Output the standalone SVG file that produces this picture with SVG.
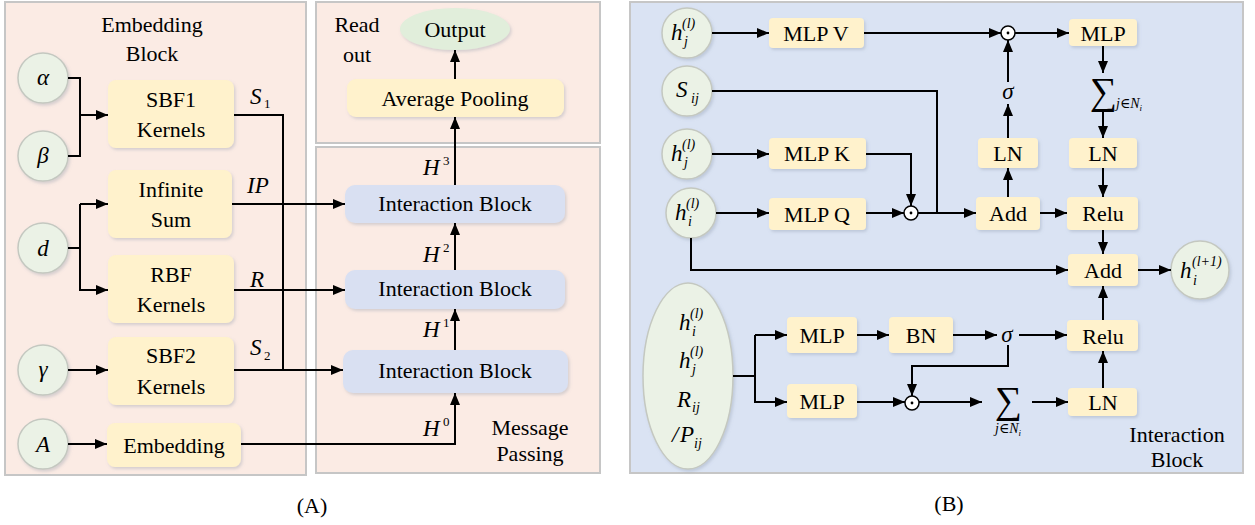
<svg xmlns="http://www.w3.org/2000/svg" width="1255" height="525" viewBox="0 0 1255 525">
<defs>
<filter id="sh" x="-20%" y="-20%" width="140%" height="140%"><feDropShadow dx="1.5" dy="2" stdDeviation="1.5" flood-color="#7f8aa0" flood-opacity="0.3"/></filter>
<marker id="ar" viewBox="0 0 12 10" refX="12" refY="5" markerWidth="12" markerHeight="10" markerUnits="userSpaceOnUse" orient="auto"><path d="M0,0 L12,5 L0,10 Z" fill="#000"/></marker>
</defs>
<style>
.pa{fill:#fbebe4;stroke:#c6c6c6;stroke-width:2}
.pb{fill:#dae3f3;stroke:#c6c6c6;stroke-width:2}
.y{fill:#fff2cc;filter:url(#sh)}
.ib{fill:#d9e0f2;filter:url(#sh)}
.c{fill:#ebf2e6;stroke:#c4c8c0;stroke-width:1.5;filter:url(#sh)}
text{font-family:"Liberation Serif","Tinos","DejaVu Serif","Noto Serif","Times New Roman",serif;fill:#000}
.t{font-size:22px;text-anchor:middle}
.m{font-style:italic;font-size:23px}
.sup{font-style:italic;font-size:14px}
.sb{font-size:13px}
.w{fill:none;stroke:#000;stroke-width:2}
.a{fill:none;stroke:#000;stroke-width:2;marker-end:url(#ar)}
.od{fill:#fff;stroke:#000;stroke-width:1.5}
</style>
<!-- panels -->
<rect class="pa" x="5" y="2" width="301" height="473"/>
<rect class="pa" x="316" y="2" width="284" height="141"/>
<rect class="pa" x="316" y="147" width="284" height="326"/>
<rect class="pb" x="630" y="2" width="613" height="471"/>
<text class="t" x="152" y="32">Embedding</text>
<text class="t" x="152" y="61">Block</text>
<text class="t" x="357" y="32">Read</text>
<text class="t" x="357" y="62">out</text>
<text class="t" x="530" y="435">Message</text>
<text class="t" x="530" y="461">Passing</text>
<text class="t" x="1177" y="442">Interaction</text>
<text class="t" x="1177" y="467">Block</text>
<text class="t" x="312" y="513">(A)</text>
<text class="t" x="949" y="511">(B)</text>

<!-- Panel A nodes -->
<g id="alpha"><circle class="c" cx="43" cy="78" r="25"/><text class="m" x="43" y="85" text-anchor="middle">α</text></g>
<g id="beta"><circle class="c" cx="43" cy="156" r="25"/><text class="m" x="43" y="163" text-anchor="middle">β</text></g>
<g id="d"><circle class="c" cx="43" cy="248" r="25"/><text class="m" x="43" y="256" text-anchor="middle">d</text></g>
<g id="gamma"><circle class="c" cx="43" cy="370" r="25"/><text class="m" x="43" y="377" text-anchor="middle">γ</text></g>
<g id="A"><circle class="c" cx="43" cy="444" r="25"/><text class="m" x="43" y="452" text-anchor="middle">A</text></g>
<g id="sbf1"><rect class="y" x="108" y="80" width="126" height="68" rx="8"/><text class="t" x="171" y="107">SBF1</text><text class="t" x="171" y="137">Kernels</text></g>
<g id="infsum"><rect class="y" x="108" y="170" width="124" height="68" rx="8"/><text class="t" x="171" y="197">Infinite</text><text class="t" x="171" y="227">Sum</text></g>
<g id="rbf"><rect class="y" x="108" y="255" width="126" height="68" rx="8"/><text class="t" x="171" y="282">RBF</text><text class="t" x="171" y="312">Kernels</text></g>
<g id="sbf2"><rect class="y" x="108" y="337" width="126" height="68" rx="8"/><text class="t" x="171" y="363">SBF2</text><text class="t" x="171" y="394">Kernels</text></g>
<g id="emb"><rect class="y" x="107" y="423" width="134" height="44" rx="8"/><text class="t" x="174" y="453">Embedding</text></g>
<g id="ib3"><rect class="ib" x="345" y="185" width="220" height="38" rx="10"/><text class="t" x="455" y="211">Interaction Block</text></g>
<g id="ib2"><rect class="ib" x="345" y="270" width="220" height="39" rx="10"/><text class="t" x="455" y="296">Interaction Block</text></g>
<g id="ib1"><rect class="ib" x="343" y="350" width="225" height="43" rx="10"/><text class="t" x="455" y="378">Interaction Block</text></g>
<g id="avgpool"><rect class="y" x="347" y="79" width="217" height="38" rx="9"/><text class="t" x="455" y="106">Average Pooling</text></g>
<g id="output"><ellipse cx="455" cy="29" rx="55" ry="21" fill="#e1eedb" filter="url(#sh)"/><text class="t" x="455" y="37">Output</text></g>

<!-- Panel B nodes -->
<g id="hj1"><circle class="c" cx="687" cy="33" r="25"/><text class="m" x="671" y="40" font-size="25">h</text><text class="sup" x="682" y="28">(l)</text><text class="sup" x="684" y="46">j</text></g>
<g id="sij"><circle class="c" cx="687" cy="91" r="25"/><text class="m" x="676" y="97">S</text><text class="sup" x="691" y="103">ij</text></g>
<g id="hj2"><circle class="c" cx="687" cy="154" r="25"/><text class="m" x="671" y="161" font-size="25">h</text><text class="sup" x="682" y="149">(l)</text><text class="sup" x="684" y="167">j</text></g>
<g id="hi"><circle class="c" cx="691" cy="213" r="25"/><text class="m" x="675" y="220" font-size="25">h</text><text class="sup" x="686" y="208">(l)</text><text class="sup" x="688" y="226">i</text></g>
<g id="hout"><circle class="c" cx="1200" cy="270" r="29"/><text class="m" x="1180" y="278" font-size="25">h</text><text class="sup" x="1192" y="266">(l+1)</text><text class="sup" x="1193" y="285">i</text></g>
<g id="inputs"><ellipse class="c" cx="688" cy="376" rx="45" ry="93"/>
<text class="m" x="679" y="330" font-size="25">h</text><text class="sup" x="690" y="318">(l)</text><text class="sup" x="692" y="336">i</text>
<text class="m" x="679" y="368" font-size="25">h</text><text class="sup" x="690" y="356">(l)</text><text class="sup" x="692" y="374">j</text>
<text class="m" x="677" y="407">R</text><text class="sup" x="692" y="412">ij</text>
<text class="m" x="672" y="442">/</text><text class="m" x="680" y="442">P</text><text class="sup" x="694" y="448">ij</text></g>
<g id="mlpv"><rect class="y" x="769" y="18" width="95" height="30" rx="4"/><text class="t" x="816" y="41">MLP V</text></g>
<g id="mlpk"><rect class="y" x="769" y="138" width="97" height="31" rx="4"/><text class="t" x="817" y="161">MLP K</text></g>
<g id="mlpq"><rect class="y" x="769" y="198" width="97" height="32" rx="4"/><text class="t" x="817" y="222">MLP Q</text></g>
<g id="odot1"><circle class="od" cx="911" cy="213" r="7"/><circle cx="911" cy="213" r="1.4"/></g>
<g id="add1"><rect class="y" x="976" y="197" width="64" height="33" rx="4"/><text class="t" x="1008" y="221">Add</text></g>
<g id="ln1"><rect class="y" x="978" y="138" width="60" height="30" rx="4"/><text class="t" x="1008" y="161">LN</text></g>
<g id="sigma1"><text class="m" x="1008" y="99" text-anchor="middle" font-size="24">σ</text></g>
<g id="odot2"><circle class="od" cx="1008" cy="33" r="7"/><circle cx="1008" cy="33" r="1.4"/></g>
<g id="mlp1"><rect class="y" x="1069" y="19" width="68" height="27" rx="4"/><text class="t" x="1103" y="41">MLP</text></g>
<g id="sum1"><text x="1090" y="104" font-size="38">∑</text><text class="sup" x="1116" y="108" font-size="12">j∈N<tspan font-size="9" dy="3">i</tspan></text></g>
<g id="ln2"><rect class="y" x="1069" y="138" width="68" height="30" rx="4"/><text class="t" x="1103" y="161">LN</text></g>
<g id="relu1"><rect class="y" x="1067" y="197" width="71" height="33" rx="4"/><text class="t" x="1103" y="221">Relu</text></g>
<g id="add2"><rect class="y" x="1068" y="254" width="70" height="32" rx="4"/><text class="t" x="1103" y="278">Add</text></g>
<g id="relu2"><rect class="y" x="1067" y="320" width="71" height="31" rx="4"/><text class="t" x="1103" y="344">Relu</text></g>
<g id="ln3"><rect class="y" x="1068" y="388" width="69" height="28" rx="4"/><text class="t" x="1103" y="410">LN</text></g>
<g id="mlp2"><rect class="y" x="787" y="317" width="70" height="36" rx="4"/><text class="t" x="822" y="343">MLP</text></g>
<g id="bn"><rect class="y" x="889" y="317" width="64" height="36" rx="4"/><text class="t" x="921" y="343">BN</text></g>
<g id="mlp3"><rect class="y" x="787" y="384" width="70" height="34" rx="4"/><text class="t" x="822" y="409">MLP</text></g>
<g id="sigma2"><text class="m" x="1007" y="342" text-anchor="middle" font-size="24">σ</text></g>
<g id="odot3"><circle class="od" cx="912" cy="403" r="7"/><circle cx="912" cy="403" r="1.4"/></g>
<g id="sum2"><text x="995" y="413" font-size="38">∑</text><text class="sup" x="995" y="433" font-size="12">j∈N<tspan font-size="9" dy="3">i</tspan></text></g>

<!-- connectors -->
<g id="connectors">
<path class="w" d="M68,78 H80 V156 H68"/>
<path class="a" d="M80,115 H108"/>
<path class="w" d="M68,248 H80"/>
<path class="a" d="M80,204 V290 H108"/>
<path class="a" d="M80,204 H108"/>
<path class="a" d="M68,370 H108"/>
<path class="a" d="M68,444 H107"/>
<path class="w" d="M234,115 H283 V370"/>
<path class="a" d="M232,204 H345"/>
<path class="a" d="M234,290 H345"/>
<path class="a" d="M234,370 H343"/>
<path class="a" d="M241,444 H455 V393"/>
<path class="a" d="M455,350 V309"/>
<path class="a" d="M455,270 V223"/>
<path class="a" d="M455,185 V117"/>
<path class="a" d="M455,79 V50"/>
<text class="m" x="250" y="104">S</text><text class="sb" x="264" y="108">1</text>
<text class="m" x="247" y="193">IP</text>
<text class="m" x="250" y="287">R</text>
<text class="m" x="250" y="355">S</text><text class="sb" x="264" y="360">2</text>
<text class="m" x="423" y="175">H</text><text class="sb" x="443" y="165">3</text>
<text class="m" x="423" y="262">H</text><text class="sb" x="443" y="252">2</text>
<text class="m" x="423" y="337">H</text><text class="sb" x="443" y="327">1</text>
<text class="m" x="423" y="436">H</text><text class="sb" x="443" y="426">0</text>

<path class="a" d="M712,33 H769"/>
<path class="a" d="M712,154 H769"/>
<path class="a" d="M716,213 H769"/>
<path class="a" d="M864,33 H1001"/>
<path class="a" d="M1015,33 H1069"/>
<path class="a" d="M866,154 H911 V206"/>
<path class="a" d="M866,213 H904"/>
<path class="w" d="M712,91 H937 V213"/>
<path class="a" d="M918,213 H976"/>
<path class="a" d="M1008,197 V168"/>
<path class="a" d="M1008,138 V104"/>
<path class="a" d="M1008,82 V40"/>
<path class="a" d="M1040,213 H1067"/>
<path class="a" d="M1103,46 V73"/>
<path class="a" d="M1103,110 V138"/>
<path class="a" d="M1103,168 V197"/>
<path class="a" d="M1103,230 V254"/>
<path class="a" d="M691,238 V270 H1068"/>
<path class="a" d="M1138,270 H1171"/>
<path class="w" d="M733,376 H755"/>
<path class="a" d="M755,335 V402 H787"/>
<path class="a" d="M755,335 H787"/>
<path class="a" d="M857,335 H889"/>
<path class="a" d="M953,335 H997"/>
<path class="a" d="M1019,335 H1067"/>
<path class="a" d="M1008,345 V366 H912 V396"/>
<path class="a" d="M857,402 H905"/>
<path class="a" d="M919,402 H982"/>
<path class="a" d="M1032,402 H1068"/>
<path class="a" d="M1103,388 V351"/>
<path class="a" d="M1103,320 V286"/>
</g>
</svg>
